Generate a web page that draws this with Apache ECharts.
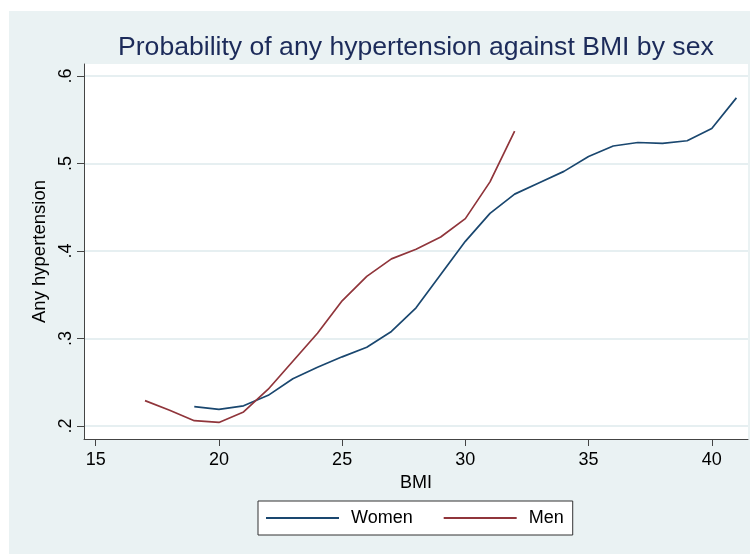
<!DOCTYPE html>
<html><head><meta charset="utf-8">
<script src="https://cdn.jsdelivr.net/npm/echarts@6/dist/echarts.min.js"></script>
<style>html,body{margin:0;padding:0;background:#fff}#c{width:754px;height:554px}</style>
</head><body><div id="c"></div>
<script>
const womenBMI = [19,20,21,22,23,24,25,26,27,28,29,30,31,32,33,34,35,36,37,38,39,40,41];
const womenP = [0.222,0.219,0.223,0.235,0.254,0.267,0.279,0.290,0.308,0.335,0.373,0.411,0.443,0.465,0.478,0.491,0.508,0.520,0.524,0.523,0.526,0.540,0.575];
const menBMI = [17,18,19,20,21,22,23,24,25,26,27,28,29,30,31,32];
const menP = [0.229,0.218,0.206,0.204,0.216,0.242,0.274,0.306,0.343,0.371,0.391,0.402,0.416,0.437,0.479,0.537];
const xTicks = [15,20,25,30,35,40];
const yTicks = [0.2,0.3,0.4,0.5,0.6];
const FONT = "'Liberation Sans', Arial, sans-serif";
const chart = echarts.init(document.getElementById('c'), null, {renderer:'canvas'});
chart.setOption({
  backgroundColor:'#ffffff',
  animation:false,
  graphic:[{type:'rect', z:-10, shape:{x:9,y:11,width:741,height:543}, style:{fill:'#eaf2f3'}}],
  title:{text:'Probability of any hypertension against BMI by sex', left:118, top:34, padding:0,
    textStyle:{fontFamily:FONT, fontSize:26.6, fontWeight:'normal', color:'#1c2b5a'}},
  grid:{left:84, right:6, top:64, bottom:115, show:true, backgroundColor:'#ffffff', borderWidth:0},
  legend:{left:258, top:501, padding:[8,9,8,8], itemGap:31, itemWidth:73, itemHeight:2, icon:'rect',
    backgroundColor:'#ffffff', borderColor:'#333', borderWidth:1,
    textStyle:{fontFamily:FONT, fontSize:18, color:'#000', padding:[0,0,0,7]},
    data:['Women','Men']},
  xAxis:{type:'value', min:14.525, max:41.47, name:'BMI', nameLocation:'middle', nameGap:33,
    nameTextStyle:{fontFamily:FONT, fontSize:18, color:'#000'},
    axisLine:{show:true, onZero:false, lineStyle:{color:'#444', width:1}},
    axisTick:{show:true, length:7, customValues:xTicks, lineStyle:{color:'#444'}},
    axisLabel:{customValues:xTicks, margin:12, fontFamily:FONT, fontSize:18, color:'#000'},
    splitLine:{show:false}},
  yAxis:{type:'value', min:0.1851, max:0.6137, name:'Any hypertension', nameLocation:'middle', nameGap:34,
    nameTextStyle:{fontFamily:FONT, fontSize:18.5, color:'#000'},
    axisLine:{show:true, onZero:false, lineStyle:{color:'#444', width:1}},
    axisTick:{show:true, length:7, customValues:yTicks, lineStyle:{color:'#444'}},
    axisLabel:{customValues:yTicks, rotate:90, margin:9, fontFamily:FONT, fontSize:18, color:'#000',
      formatter:v=>'.'+Math.round(v*10)},
    splitLine:{show:true, lineStyle:{color:'#e6eff1', width:2}}},
  series:[
    {name:'Women', type:'line', data:womenBMI.map((x,i)=>[x,womenP[i]]), symbol:'none', smooth:false,
      lineStyle:{color:'#1a476f', width:1.7}, itemStyle:{color:'#1a476f'}},
    {name:'Men', type:'line', data:menBMI.map((x,i)=>[x,menP[i]]), symbol:'none', smooth:false,
      lineStyle:{color:'#90353b', width:1.7}, itemStyle:{color:'#90353b'}}
  ]
});
</script></body></html>
